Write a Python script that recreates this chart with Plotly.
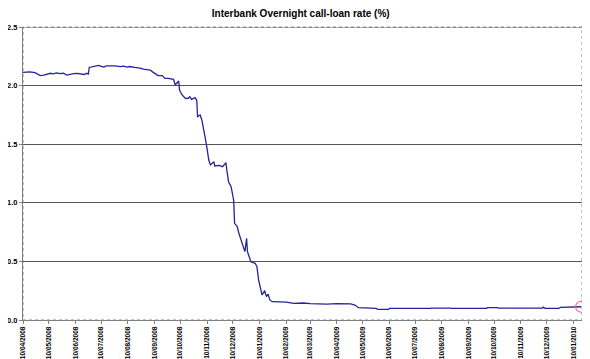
import plotly.graph_objects as go

dates = [
    "2008-04-10", "2008-04-14", "2008-04-18", "2008-04-24", "2008-04-28", "2008-04-30",
    "2008-05-04", "2008-05-08", "2008-05-12", "2008-05-15", "2008-05-19", "2008-05-23",
    "2008-05-27", "2008-05-31", "2008-06-04", "2008-06-08", "2008-06-12", "2008-06-17",
    "2008-06-20", "2008-06-23", "2008-06-25", "2008-06-26", "2008-07-01", "2008-07-04",
    "2008-07-07", "2008-07-10", "2008-07-13", "2008-07-16", "2008-07-20", "2008-07-26",
    "2008-08-01", "2008-08-05", "2008-08-09", "2008-08-12", "2008-08-18", "2008-08-24",
    "2008-08-28", "2008-09-02", "2008-09-05", "2008-09-08", "2008-09-10", "2008-09-14",
    "2008-09-19", "2008-09-22", "2008-09-26", "2008-09-30", "2008-10-02", "2008-10-04",
    "2008-10-06", "2008-10-08", "2008-10-09", "2008-10-12", "2008-10-16", "2008-10-19",
    "2008-10-21", "2008-10-23", "2008-10-27", "2008-10-29", "2008-10-30", "2008-11-02",
    "2008-11-04", "2008-11-06", "2008-11-08", "2008-11-10", "2008-11-12", "2008-11-14",
    "2008-11-18", "2008-11-19", "2008-11-24", "2008-11-28", "2008-12-02", "2008-12-03",
    "2008-12-05", "2008-12-08", "2008-12-10", "2008-12-11", "2008-12-12", "2008-12-15",
    "2008-12-17", "2008-12-20", "2008-12-23", "2008-12-24", "2008-12-26", "2008-12-27",
    "2008-12-29", "2008-12-31", "2009-01-05", "2009-01-07", "2009-01-09", "2009-01-11",
    "2009-01-13", "2009-01-16", "2009-01-18", "2009-01-20", "2009-01-22", "2009-01-25",
    "2009-02-03", "2009-02-10", "2009-02-19", "2009-03-02", "2009-03-10", "2009-03-21",
    "2009-03-29", "2009-04-10", "2009-04-26", "2009-05-01", "2009-05-05", "2009-05-26",
    "2009-05-27", "2009-06-09", "2009-06-10", "2009-07-28", "2009-07-29", "2009-08-20",
    "2009-08-21", "2009-10-01", "2009-10-02", "2009-10-14", "2009-10-15", "2009-12-05",
    "2009-12-06", "2009-12-08", "2009-12-24", "2009-12-26", "2010-01-15", "2010-01-19",
]

rates = [
    2.113, 2.118, 2.117, 2.110, 2.095, 2.085,
    2.090, 2.100, 2.105, 2.100, 2.108, 2.102,
    2.105, 2.090, 2.098, 2.103, 2.105, 2.100,
    2.095, 2.105, 2.098, 2.155, 2.163, 2.165,
    2.172, 2.165, 2.158, 2.168, 2.170, 2.168,
    2.162, 2.166, 2.158, 2.163, 2.155, 2.150,
    2.140, 2.138, 2.133, 2.115, 2.105, 2.085,
    2.085, 2.062, 2.062, 2.055, 2.053, 2.005,
    2.020, 2.039, 1.962, 1.920, 1.890, 1.892,
    1.905, 1.883, 1.897, 1.877, 1.735, 1.749,
    1.706, 1.607, 1.550, 1.465, 1.365, 1.323,
    1.350, 1.314, 1.320, 1.308, 1.342, 1.280,
    1.180, 1.137, 1.066, 1.020, 0.825, 0.800,
    0.740, 0.668, 0.612, 0.583, 0.697, 0.583,
    0.540, 0.497, 0.484, 0.455, 0.341, 0.284,
    0.213, 0.250, 0.199, 0.220, 0.171, 0.156,
    0.156, 0.152, 0.142, 0.145, 0.139, 0.134,
    0.136, 0.139, 0.137, 0.128, 0.105, 0.100,
    0.091, 0.091, 0.100, 0.100, 0.102, 0.102,
    0.100, 0.100, 0.105, 0.105, 0.102, 0.102,
    0.110, 0.100, 0.100, 0.108, 0.108, 0.113,
]

tick_dates = [
    "2008-04-10", "2008-05-10", "2008-06-10", "2008-07-10", "2008-08-10", "2008-09-10",
    "2008-10-10", "2008-11-10", "2008-12-10", "2009-01-10", "2009-02-10", "2009-03-10",
    "2009-04-10", "2009-05-10", "2009-06-10", "2009-07-10", "2009-08-10", "2009-09-10",
    "2009-10-10", "2009-11-10", "2009-12-10", "2010-01-10",
]
tick_labels = [
    "10/04/2008", "10/05/2008", "10/06/2008", "10/07/2008", "10/08/2008", "10/09/2008",
    "10/10/2008", "10/11/2008", "10/12/2008", "10/01/2009", "10/02/2009", "10/03/2009",
    "10/04/2009", "10/05/2009", "10/06/2009", "10/07/2009", "10/08/2009", "10/09/2009",
    "10/10/2009", "10/11/2009", "10/12/2009", "10/01/2010",
]

y_ticks = [0.0, 0.5, 1.0, 1.5, 2.0, 2.5]

GRID = "#555555"

fig = go.Figure()
fig.add_trace(go.Scatter(
    x=dates, y=rates, mode="lines",
    line=dict(color="#24249a", width=1.3),
    showlegend=False, hoverinfo="skip",
))
fig.add_trace(go.Scatter(
    x=[dates[-1]], y=[rates[-1]], mode="markers",
    marker=dict(symbol="circle-open", size=11, color="#f07070", line=dict(width=1.2)),
    showlegend=False, hoverinfo="skip", cliponaxis=False,
))

# plot-area border (dotted, Excel style)
fig.add_shape(type="rect", xref="paper", yref="paper", x0=0, y0=0, x1=1, y1=1,
              line=dict(color="#888888", width=1, dash="dot"), layer="below")
# top gridline at the maximum of the value axis
fig.add_shape(type="line", xref="paper", yref="y", x0=0, x1=1, y0=y_ticks[-1], y1=y_ticks[-1],
              line=dict(color=GRID, width=1), layer="above")

# the page body adds an 8px margin, so the figure is sized for the remaining area
fig.update_layout(
    width=582, height=351,
    margin=dict(l=15, r=8, t=19, b=39, autoexpand=False),
    paper_bgcolor="white", plot_bgcolor="white",
    font=dict(family="Liberation Sans, Arial, sans-serif", color="black"),
    title=dict(text="<b>Interbank Overnight call-loan rate (%)</b>",
               x=0.503, xanchor="center", y=0.983, yanchor="middle",
               font=dict(size=10, color="black")),
    xaxis=dict(
        type="date", range=["2008-04-10", "2010-01-20"], automargin=False,
        tickmode="array", tickvals=tick_dates, ticktext=tick_labels,
        tickangle=-90, tickfont=dict(size=6.5, family="Liberation Sans, Arial, sans-serif", weight="bold"),
        ticks="outside", ticklen=3, tickcolor="#808080",
        showgrid=False, showline=True, linecolor="#808080", linewidth=1,
        zeroline=False,
    ),
    yaxis=dict(
        range=[0, 2.5], tickmode="array", tickvals=y_ticks, automargin=False,
        tickformat=".1f",
        tickfont=dict(size=7.5, family="Liberation Sans, Arial, sans-serif", weight="bold"),
        ticks="outside", ticklen=3, tickcolor="#808080",
        showgrid=True, gridcolor=GRID, gridwidth=1,
        showline=True, linecolor="#808080", linewidth=1,
        zeroline=False,
    ),
)

fig.write_html("out.html")
